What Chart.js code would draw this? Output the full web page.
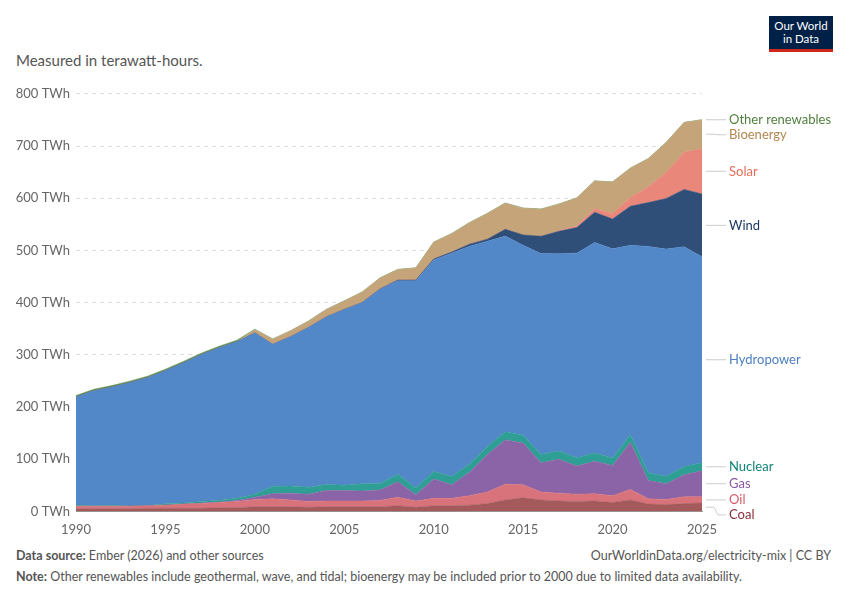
<!DOCTYPE html>
<html><head><meta charset="utf-8">
<script src="https://cdn.jsdelivr.net/npm/chart.js@4"></script>
<style>
body{margin:0;background:#fff;font-family:Lato,"Noto Sans",sans-serif;}
#wrap{position:absolute;left:0;top:80px;width:850px;height:461px;}
.t{position:absolute;color:#555;}
</style></head><body>
<div class="t" style="left:16px;top:51px;font-size:15px;color:#555">Measured in terawatt-hours.</div>
<div style="position:absolute;left:769px;top:16px;width:64px;height:36px;background:#002147;border-bottom:3px solid #ce261e;color:#fff;font-size:11.5px;line-height:13px;text-align:center;padding-top:3px;box-sizing:border-box">Our World<br>in Data</div>
<div id="wrap"><canvas id="c"></canvas></div>
<div class="t" style="left:16px;top:548px;font-size:12.5px"><b>Data source:</b> Ember (2026) and other sources</div>
<div class="t" style="right:19px;top:548px;font-size:12.5px">OurWorldinData.org/electricity-mix | CC BY</div>
<div class="t" style="left:16px;top:569px;font-size:12.5px"><b>Note:</b> Other renewables include geothermal, wave, and tidal; bioenergy may be included prior to 2000 due to limited data availability.</div>
<script>
const years=[1990,1991,1992,1993,1994,1995,1996,1997,1998,1999,2000,2001,2002,2003,2004,2005,2006,2007,2008,2009,2010,2011,2012,2013,2014,2015,2016,2017,2018,2019,2020,2021,2022,2023,2024,2025];
const coal=[5,5,5,5,6,6,6,6,7,7,9,9,9,8,9,9,9,9,11,8,11,11,12,15,22,26,22,20,19,20,17,22,14,13,15,16];
const oil=[5,5,5,5,5,6,8,9,10,12,14,15,13,11,11,11,11,12,16,12,14,14,18,22,30,25,15,15,14,14,13,20,10,10,13,12];
const gas=[0,0,0,0,0,0,0,1,1,2,4,10,13,14,20,20,19,20,30,12,37,26,45,72,85,80,56,65,54,62,58,90,35,30,42,50];
const nuclear=[2,1,2,0.5,0.1,2.5,2.3,3.2,3.3,4,6,14,13.8,13.4,11.6,9.9,13.8,12.4,14,13,14.5,15.7,16,15.5,15.4,14.7,15.9,15.7,15.7,16.1,14.1,14.7,14.6,14.5,15.8,15];
const hydro=[207,220,226,236,245,255,268,281,292,300,309,272,286,306,321,337,347,372,371,397,405,428,417,393,375,364,385,378,392,403,401,363,434,435,421,395];
const wind=[0,0,0,0,0,0,0,0,0,0,0,0,0,0,0,0.1,0.2,0.7,1.2,1.2,2,2,4,4,13,20,33,43,49,58,57,75,84,97,110,120];
const solar=[0,0,0,0,0,0,0,0,0,0,0,0,0,0,0,0,0,0,0,0,0,0,0,0,0,0,0,0.8,3.5,6.7,10.7,16.8,30,50,71,87];
const bio=[0,0,0,0,0,0,0,0,0,0,6,10,11,12,14,16,20,21,20,23,32,35,41,49,50,51,52,51,53,53,60,56,54,57,57,55];
const other=[3,3,3,3,3,3,3,3,3,3,1,0.5,0.5,0.5,0.5,0.5,0.5,0.5,0.5,0.5,0.5,0.5,0.5,0.5,0.5,0.5,0.5,0.5,0.5,0.5,0.5,0.5,0.5,0.5,0.5,0.5];
const series=[["Coal",coal,"#a4595b"],["Oil",oil,"#d9737b"],["Gas",gas,"#8b64a7"],["Nuclear",nuclear,"#2f9e95"],["Hydropower",hydro,"#5287c8"],["Wind",wind,"#2f4f78"],["Solar",solar,"#e8877a"],["Bioenergy",bio,"#c5a479"],["Other renewables",other,"#5b8f4e"]];
const labelColors={"Coal":"#883039","Oil":"#d35d69","Gas":"#8a5aa3","Nuclear":"#0f8377","Hydropower":"#4b7fc1","Wind":"#1d3a63","Solar":"#e56e5a","Bioenergy":"#b0874f","Other renewables":"#4f7f3e"};
const datasets=series.map((s,i)=>({label:s[0],data:s[1].map((v,j)=>({x:years[j],y:v})),backgroundColor:s[2],borderColor:s[2],borderWidth:0.5,pointRadius:0,fill:i===0?'origin':'-1',tension:0}));
const rightLabels={id:'rl',afterDraw(ch){
 const c=ch.ctx,y=ch.scales.y,x=ch.scales.x,n=years.length-1;let cum=0,items=[];
 series.forEach(s=>{const v=s[1][n];items.push({n:s[0],t:y.getPixelForValue(cum+v/2)});cum+=v;});
 items.reverse();let last=-1e9;items.forEach(it=>{it.y=Math.max(it.t,last+15);last=it.y;});
 c.save();c.font='13px Lato';c.textBaseline='middle';
 const x0=x.right+4;
 items.forEach(it=>{c.strokeStyle='#ccc';c.lineWidth=1;c.beginPath();c.moveTo(x0,it.t);c.lineTo(x0+8,it.t);c.lineTo(x0+12,it.y);c.lineTo(x0+20,it.y);c.stroke();
  c.fillStyle=labelColors[it.n];c.fillText(it.n,x0+23,it.y);});
 c.restore();}};
new Chart(document.getElementById('c'),{type:'line',data:{datasets},plugins:[rightLabels],
options:{responsive:true,maintainAspectRatio:false,animation:false,
layout:{padding:{left:0,right:148,top:0,bottom:0}},
plugins:{legend:{display:false},tooltip:{enabled:false}},
scales:{x:{type:'linear',min:1990,max:2025,grid:{display:false,drawTicks:true},border:{color:'#999'},
 ticks:{stepSize:5,color:'#666',font:{size:13,family:'Lato'},callback:v=>v%5===0?String(v):''}},
 y:{stacked:true,min:0,max:800,afterFit:s=>{s.width=76;},border:{display:false,dash:[4,4]},grid:{color:'#ddd',drawTicks:false},
 ticks:{stepSize:100,color:'#666',padding:6,font:{size:13,family:'Lato'},callback:v=>v+' TWh'}}}}});
</script></body></html>
